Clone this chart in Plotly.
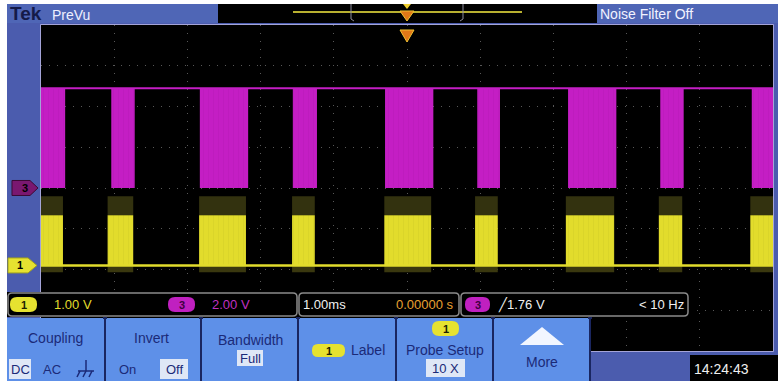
import plotly.graph_objects as go

TIME_PER_DIV_MS = 1.0
X_RANGE_MS = [-5.0, 5.0]          # 10 horizontal divisions, trigger at centre
Y_RANGE_DIV = [-4.0, 4.0]         # 8 vertical divisions

# Channel 1 (yellow) – burst windows in ms
CH1_BURST_START_MS = [-5.36, -4.09, -2.84, -1.57, -0.31, 0.93, 2.17, 3.44, 4.69]
CH1_BURST_END_MS = [-4.70, -3.74, -2.20, -1.26, 0.33, 1.24, 2.83, 3.76, 5.35]
CH1_LOW_V = 0.0
CH1_HIGH_V = 1.23
CH1_RING_V = 1.70
CH1_UNDER_V = -0.17
CH1_VOLTS_PER_DIV = 1.0
CH1_OFFSET_DIV = -1.9

# Channel 3 (magenta) – burst windows in ms
CH3_BURST_START_MS = [-5.33, -4.04, -2.83, -1.56, -0.30, 0.96, 2.20, 3.46, 4.71]
CH3_BURST_END_MS = [-4.67, -3.72, -2.17, -1.23, 0.36, 1.27, 2.86, 3.78, 5.37]
CH3_LOW_V = 0.0
CH3_HIGH_V = 4.9
CH3_VOLTS_PER_DIV = 2.0
CH3_OFFSET_DIV = 0.0

# ---------------- page geometry (pixels) ----------------
W, H = 778, 381
GX0, GX1, GY0, GY1 = 41, 773, 25, 351   # graticule
DIV_PX = (GY1 - GY0) / 8.0
CY = (GY0 + GY1) / 2.0

FONT = "Liberation Sans, Arial, sans-serif"

YEL = "#e2dc2c"
MAG = "#c41ec4"
BLUE_DARK = "#4b5cae"
BLUE_BTN = "#5e90e8"
NAVY = "#1b2a78"


def X(px):
    return px / W


def Y(py):
    return 1 - py / H


def to_div(v, vpd, off):
    return off + v / vpd


def bands(starts, ends, lo, hi):
    xs, ys = [], []
    for s, e in zip(starts, ends):
        xs += [s, s, e, e, s, None]
        ys += [lo, hi, hi, lo, lo, None]
    return xs, ys


fig = go.Figure()

# ---- channel 1 ----
c1 = lambda v: to_div(v, CH1_VOLTS_PER_DIV, CH1_OFFSET_DIV)
xs, ys = bands(CH1_BURST_START_MS, CH1_BURST_END_MS, c1(CH1_HIGH_V), c1(CH1_RING_V))
fig.add_trace(go.Scatter(x=xs, y=ys, fill="toself", fillcolor="#33320f",
                         line=dict(width=0), mode="lines"))
xs, ys = bands(CH1_BURST_START_MS, CH1_BURST_END_MS, c1(CH1_UNDER_V), c1(CH1_LOW_V))
fig.add_trace(go.Scatter(x=xs, y=ys, fill="toself", fillcolor="#3a380f",
                         line=dict(width=0), mode="lines"))
xs, ys = bands(CH1_BURST_START_MS, CH1_BURST_END_MS, c1(CH1_LOW_V), c1(CH1_HIGH_V))
fig.add_trace(go.Scatter(x=xs, y=ys, fill="toself", fillcolor=YEL,
                         fillpattern=dict(shape="|", fgcolor="#c4be22", bgcolor=YEL,
                                          size=5, solidity=0.1, fillmode="overlay"),
                         line=dict(width=0), mode="lines"))
fig.add_trace(go.Scatter(x=X_RANGE_MS, y=[c1(CH1_LOW_V)] * 2, mode="lines",
                         line=dict(color=YEL, width=2.5)))

# ---- channel 3 ----
c3 = lambda v: to_div(v, CH3_VOLTS_PER_DIV, CH3_OFFSET_DIV)
xs, ys = bands(CH3_BURST_START_MS, CH3_BURST_END_MS, c3(CH3_LOW_V), c3(CH3_HIGH_V))
fig.add_trace(go.Scatter(x=xs, y=ys, fill="toself", fillcolor=MAG,
                         fillpattern=dict(shape="|", fgcolor="#aa16aa", bgcolor=MAG,
                                          size=5, solidity=0.1, fillmode="overlay"),
                         line=dict(width=0), mode="lines"))
fig.add_trace(go.Scatter(x=X_RANGE_MS, y=[c3(CH3_HIGH_V)] * 2, mode="lines",
                         line=dict(color=MAG, width=2)))

# ---------------- shapes ----------------
shapes = []


def rect(x0, y0, x1, y1, fill=None, line=None, lw=0, layer="above"):
    shapes.append(dict(type="rect", xref="paper", yref="paper",
                       x0=X(x0), x1=X(x1), y0=Y(y1), y1=Y(y0),
                       fillcolor=fill if fill else "rgba(0,0,0,0)",
                       line=dict(color=line if line else "rgba(0,0,0,0)", width=lw),
                       layer=layer))


def path(pts, fill=None, line=None, lw=0, closed=True, layer="above"):
    d = ""
    for cmd, px, py in pts:
        d += f"{cmd}{X(px):.5f},{Y(py):.5f} "
    if closed:
        d += "Z"
    shapes.append(dict(type="path", xref="paper", yref="paper", path=d,
                       fillcolor=fill if fill else "rgba(0,0,0,0)",
                       line=dict(color=line if line else "rgba(0,0,0,0)", width=lw),
                       layer=layer))


def rrect(x0, y0, x1, y1, r, fill=None, line=None, lw=0):
    d = (f"M{X(x0 + r):.5f},{Y(y0):.5f} L{X(x1 - r):.5f},{Y(y0):.5f} "
         f"Q{X(x1):.5f},{Y(y0):.5f} {X(x1):.5f},{Y(y0 + r):.5f} "
         f"L{X(x1):.5f},{Y(y1 - r):.5f} "
         f"Q{X(x1):.5f},{Y(y1):.5f} {X(x1 - r):.5f},{Y(y1):.5f} "
         f"L{X(x0 + r):.5f},{Y(y1):.5f} "
         f"Q{X(x0):.5f},{Y(y1):.5f} {X(x0):.5f},{Y(y1 - r):.5f} "
         f"L{X(x0):.5f},{Y(y0 + r):.5f} "
         f"Q{X(x0):.5f},{Y(y0):.5f} {X(x0 + r):.5f},{Y(y0):.5f} Z")
    shapes.append(dict(type="path", xref="paper", yref="paper", path=d,
                       fillcolor=fill if fill else "rgba(0,0,0,0)",
                       line=dict(color=line if line else "rgba(0,0,0,0)", width=lw),
                       layer="above"))


def seg(x0, y0, x1, y1, color, lw=1):
    shapes.append(dict(type="line", xref="paper", yref="paper",
                       x0=X(x0), y0=Y(y0), x1=X(x1), y1=Y(y1),
                       line=dict(color=color, width=lw), layer="above"))


# frame and graticule background
rect(7, 4, 778, 381, fill=BLUE_DARK, layer="below")
rect(GX0, GY0, GX1, GY1, fill="#000000", layer="below")
# header
rect(7, 4, 218, 23, fill="#4f66b6")
rect(218, 4, 597, 23, fill="#000000")
rect(597, 4, 778, 23, fill="#4f66b6")
seg(293, 12, 522, 12, "#b8b030", 2)
path([("M", 351, 4), ("L", 351, 19), ("L", 354, 21)], line="#8c8c9c", lw=1, closed=False)
path([("M", 463, 4), ("L", 463, 19), ("L", 460, 21)], line="#8c8c9c", lw=1, closed=False)
# trigger markers
path([("M", 403, 4), ("L", 411, 4), ("L", 407, 9)], fill="#f0d030")
path([("M", 400, 11), ("L", 414, 11), ("L", 407, 21)], fill="#e07818", line="#f0c030", lw=1)
path([("M", 400, 30), ("L", 414, 30), ("L", 407, 42)], fill="#e07818", line="#f0c030", lw=1)
# graticule border
rect(GX0 - 0.5, GY0 - 0.5, GX1 + 0.5, GY1 + 0.5, line="#a4a4d8", lw=1)

# channel markers on the left bar
y3 = CY - CH3_OFFSET_DIV * DIV_PX
y1 = CY - CH1_OFFSET_DIV * DIV_PX
path([("M", 12, y3 - 7.5), ("L", 30, y3 - 7.5), ("L", 38, y3), ("L", 30, y3 + 7.5), ("L", 12, y3 + 7.5)],
     fill="#7a1870", line="#3c0a34", lw=1)
path([("M", 8, y1 - 7.5), ("L", 28, y1 - 7.5), ("L", 37, y1), ("L", 28, y1 + 7.5), ("L", 8, y1 + 7.5)],
     fill="#e6e230", line="#a0a020", lw=1)

# status bar
rect(7, 292, 690, 317, fill="#000000")
rrect(8, 293, 297, 316, 4, line="#8a8a8a", lw=1.5)
rrect(299, 293, 459, 316, 4, line="#8a8a8a", lw=1.5)
rrect(461, 293, 688, 316, 4, line="#8a8a8a", lw=1.5)
rrect(10, 297, 37, 312, 7, fill="#e6e230")
rrect(168, 297, 195, 312, 7, fill="#c020c0")
rrect(465, 297, 490, 312, 7, fill="#c020c0")

# buttons
rect(7, 318, 590, 381, fill=BLUE_BTN)
for sx in [105, 201, 298, 396, 493, 590]:
    seg(sx, 318, sx, 381, "#1a2660", 2)
    seg(sx - 2, 318, sx + 2, 318, "#1a2660", 2)
rect(9, 359, 31, 379, fill="#dfe7f6")
rect(160, 359, 188, 379, fill="#dfe7f6")
rect(237, 350, 263, 366, fill="#dfe7f6")
rect(426, 359, 465, 377, fill="#dfe7f6")
rrect(312, 344, 345, 357, 6, fill="#e6e230")
rrect(432, 321, 459, 336, 7, fill="#e6e230")
path([("M", 520, 345), ("L", 542, 327), ("L", 564, 345)], fill="#f2f6ff")
# ground symbol
path([("M", 86, 360), ("L", 86, 371)], line=NAVY, lw=1.5, closed=False)
path([("M", 78, 371), ("L", 94, 371)], line=NAVY, lw=1.5, closed=False)
for gx in [80, 86, 92]:
    path([("M", gx, 371), ("L", gx - 3, 377)], line=NAVY, lw=1.5, closed=False)
# time box
rect(690, 355, 778, 381, fill="#000000")

# ---------------- text ----------------
annotations = []


def txt(s, px, py, color, size=13, anchor="left", bold=False):
    if bold:
        s = f"<b>{s}</b>"
    annotations.append(dict(text=s, x=X(px), y=Y(py), xref="paper", yref="paper",
                            xanchor=anchor, yanchor="middle", showarrow=False,
                            font=dict(family=FONT, size=size, color=color)))


txt("Tek", 8, 14, "#141a48", 19, bold=True)
txt("PreVu", 50, 15, "#eef0ff", 14)
txt("Noise Filter Off", 598, 14, "#f2f2ff", 14)
txt("3", 25, y3, "#000000", 11, "center", bold=True)
txt("1", 20, y1, "#000000", 11, "center", bold=True)

txt("1", 23.5, 304.5, "#202000", 11, "center", bold=True)
txt("1.00 V", 52, 304.5, YEL, 13)
txt("3", 181.5, 304.5, "#400040", 11, "center", bold=True)
txt("2.00 V", 210, 304.5, "#c030c0", 13)
txt("1.00ms", 301, 304.5, "#f0f0f0", 13)
txt("0.00000 s", 394, 304.5, "#e8a030", 13)
txt("3", 477.5, 304.5, "#400040", 11, "center", bold=True)
txt("╱1.76 V", 496, 304.5, "#f0f0f0", 13)
txt("< 10 Hz", 686, 304.5, "#f0f0f0", 13, "right")

txt("Coupling", 55, 338, NAVY, 14, "center")
txt("DC", 20, 369, NAVY, 13, "center")
txt("AC", 52, 369, NAVY, 13, "center")
txt("Invert", 151, 338, NAVY, 14, "center")
txt("On", 127, 369, NAVY, 13, "center")
txt("Off", 174, 369, NAVY, 13, "center")
txt("Bandwidth", 250, 340, NAVY, 14, "center")
txt("Full", 250, 358, NAVY, 13, "center")
txt("1", 328.5, 350.5, "#202000", 11, "center", bold=True)
txt("Label", 349, 350, NAVY, 14)
txt("1", 445.5, 328.5, "#202000", 11, "center", bold=True)
txt("Probe Setup", 445, 350, NAVY, 14, "center")
txt("10 X", 445, 368, NAVY, 13, "center")
txt("More", 542, 362, NAVY, 14, "center")
txt("14:24:43", 692, 369, "#f0f0f0", 14)

fig.update_layout(
    width=W, height=H,
    margin=dict(l=0, r=0, t=0, b=0),
    paper_bgcolor="#ffffff",
    plot_bgcolor="rgba(0,0,0,0)",
    showlegend=False,
    hovermode=False,
    shapes=shapes,
    annotations=annotations,
    xaxis=dict(domain=[X(GX0), X(GX1)], range=X_RANGE_MS, dtick=TIME_PER_DIV_MS,
               showticklabels=False, ticks="", zeroline=False, showline=False,
               showgrid=True, gridcolor="#585858", griddash="1px,7px", gridwidth=1,
               fixedrange=True),
    yaxis=dict(domain=[Y(GY1), Y(GY0)], range=Y_RANGE_DIV, dtick=1,
               showticklabels=False, ticks="", zeroline=False, showline=False,
               showgrid=True, gridcolor="#585858", griddash="1px,7px", gridwidth=1,
               fixedrange=True),
)

fig.write_html("out.html", config={"displayModeBar": False},
               post_script="document.body.style.margin='0';document.body.style.overflow='hidden';")
